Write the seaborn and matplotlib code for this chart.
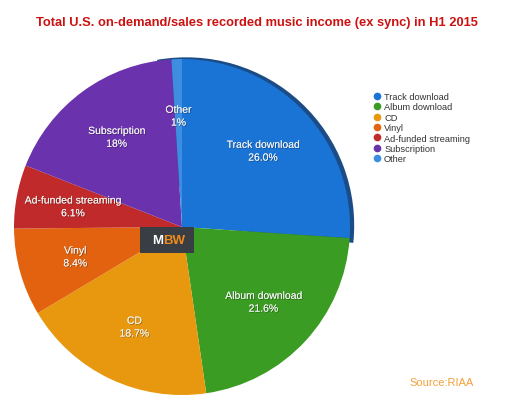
import matplotlib
matplotlib.use("Agg")
import matplotlib.pyplot as plt
import matplotlib.patheffects as pe
from matplotlib.patches import Wedge, FancyBboxPatch
from matplotlib.lines import Line2D
import numpy as np
import seaborn as sns

categories = ["Track download", "Album download", "CD", "Vinyl",
              "Ad-funded streaming", "Subscription", "Other"]
values = [26.0, 21.6, 18.7, 8.4, 6.1, 18.0, 1.0]
value_labels = ["26.0%", "21.6%", "18.7%", "8.4%", "6.1%", "18%", "1%"]
colors = ["#1a74d6", "#3a9c22", "#e8980e", "#e2620f", "#c02a2a", "#6a32ad", "#3d8ee0"]

sns.set_theme(style="white")
plt.rcParams["font.family"] = ["Liberation Sans", "DejaVu Sans"]

W, H = 514, 414
fig = plt.figure(figsize=(W / 100, H / 100), dpi=100)
fig.patch.set_facecolor("white")

cx, cy, r = 182, 228, 168
ax = fig.add_axes([(cx - r) / W, 1 - (cy + r) / H, 2 * r / W, 2 * r / H])

# 3D rim shadow
rim = Wedge((0.025, 0.01), 1.0, -6, 100, facecolor="#1b4c86", edgecolor="none", zorder=0)
rim.set_clip_on(False)
ax.add_patch(rim)

wedges, _ = ax.pie(values, colors=colors, startangle=90, counterclock=False,
                   radius=1.0, wedgeprops=dict(linewidth=0))
for w in wedges:
    w.set_zorder(1)
    w.set_clip_on(False)

shadow = [pe.withSimplePatchShadow(offset=(0.6, -0.6), shadow_rgbFace="black", alpha=0.35), pe.Normal()]
for w, name, lab in zip(wedges, categories, value_labels):
    ang = np.deg2rad((w.theta1 + w.theta2) / 2)
    d = 0.66
    ax.text(d * np.cos(ang), d * np.sin(ang), f"{name}\n{lab}", ha="center", va="center",
            color="#f0f0f0", fontsize=7.5, linespacing=1.35, zorder=3, path_effects=shadow)

ax.set_xlim(-1, 1)
ax.set_ylim(-1, 1)
ax.set_aspect("equal")
ax.axis("off")

# MBW logo
lx, ly, lw, lh = 140, 228, 54, 26
fig.patches.append(FancyBboxPatch((lx / W, 1 - (ly + lh) / H), lw / W, lh / H,
                                  boxstyle="square,pad=0", transform=fig.transFigure,
                                  facecolor="#393e44", edgecolor="none", zorder=5))
fig.text(163.5 / W, 1 - (ly + lh / 2) / H, "M", color="white", fontsize=9.5,
         fontweight="bold", ha="right", va="center", zorder=6)
fig.text(163.5 / W, 1 - (ly + lh / 2) / H, "BW", color="#f08a1c", fontsize=9.5,
         fontweight="bold", ha="left", va="center", zorder=6)

# Title
fig.text(257 / W, 1 - 23 / H, "Total U.S. on-demand/sales recorded music income (ex sync) in H1 2015",
         color="#cc1111", fontsize=9.3, fontweight="bold", ha="center", va="center")

# Legend
handles = [Line2D([0], [0], marker="o", linestyle="none", markerfacecolor=c,
                  markeredgecolor=c, markersize=4.5) for c in colors]
fig.legend(handles, categories, loc="upper left", bbox_to_anchor=(372 / W, 1 - 93 / H),
           frameon=False, fontsize=6.7, handletextpad=0.3, labelspacing=0.15,
           handlelength=1.0, borderpad=0, borderaxespad=0, labelcolor="#333333")

# Source
fig.text(409 / W, 1 - 383 / H, "Source:RIAA", color="#f5a03a", fontsize=8, ha="left", va="center")

fig.savefig("out.png", dpi=100, facecolor="white")
